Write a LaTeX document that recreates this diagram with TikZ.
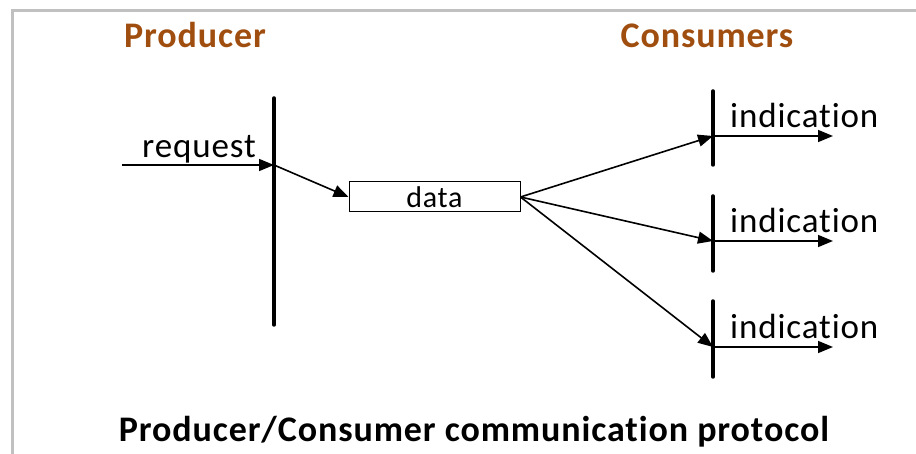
\documentclass[tikz,border=0pt]{standalone}
\usepackage{fontspec}
\setmainfont[Ligatures=NoCommon, RawFeature=-liga, LetterSpace=2.5]{Carlito}
\usetikzlibrary{arrows.meta}
\definecolor{headbrown}{RGB}{160,78,16}
\definecolor{framegray}{RGB}{192,192,192}
\tikzset{
  lifeline/.style={line width=3.5pt, line cap=round},
  msg/.style={line width=1.6pt, -{Triangle[length=15pt,width=12pt]}},
  lbl/.style={inner sep=0pt, anchor=base west, font=\fontsize{35}{40}\selectfont},
  head/.style={inner sep=0pt, anchor=base, text=headbrown, font=\bfseries\fontsize{36}{40}\selectfont},
  databox/.style={draw, line width=1pt, minimum width=171pt, minimum height=30pt, inner sep=0pt, font=\fontsize{30}{34}\selectfont}
}
\begin{document}
\begin{tikzpicture}[x=1pt,y=-1pt]
\useasboundingbox (0,0) rectangle (916,454);
% frame
\coordinate (fbl) at (12.5,470);
\coordinate (ftl) at (12.5,10.5);
\coordinate (ftr) at (930,10.5);
\draw[framegray, line width=3pt] (fbl) -- (ftl) -- (ftr);
% headings
\node[head] (hprod) at (195,48) {Producer};
\node[head] (hcons) at (707,48) {Consumers};
\node[inner sep=0pt, anchor=base, font=\bfseries\fontsize{36}{40}\selectfont] (title) at (474,441) {Producer/Consumer communication protocol};
% producer
\coordinate (ptop) at (274,98);
\coordinate (pbot) at (274,325);
\draw[lifeline] (ptop) -- (pbot);
\coordinate (rin) at (122,165);
\coordinate (rhit) at (274,165);
\draw[msg] (rin) -- (rhit);
\node[lbl] (req) at (142,158) {request};
% data box
\node[databox] (data) at (434.5,197) {data};
\draw[msg] (rhit) -- (data.west);
% consumers
\foreach \i/\y/\t/\b/\ty in {1/136/91/165/128, 2/241/196/271/233, 3/347/301/377/339}{
  \coordinate (c\i top) at (713,\t);
  \coordinate (c\i bot) at (713,\b);
  \coordinate (c\i) at (713,\y);
  \coordinate (o\i) at (833,\y);
  \draw[lifeline] (c\i top) -- (c\i bot);
  \draw[msg] (data.east) -- (c\i);
  \draw[msg] (c\i) -- (o\i);
  \node[lbl] (ind\i) at (730,\ty) {indication};
}
\end{tikzpicture}
\end{document}
